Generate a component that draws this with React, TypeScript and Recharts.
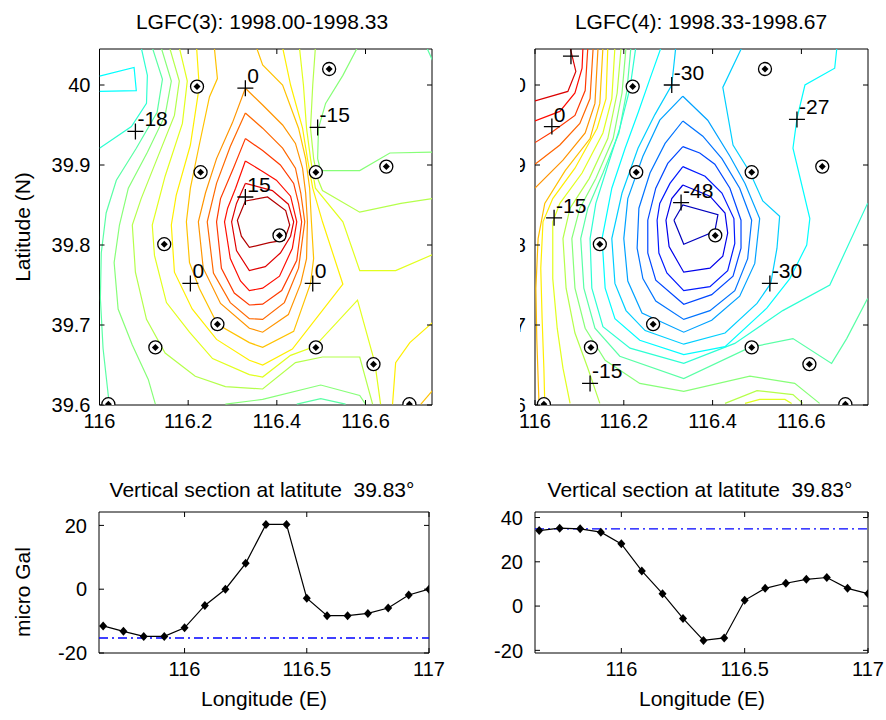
import React from 'react';
import { ScatterChart, Scatter, LineChart, Line, XAxis, YAxis, ReferenceArea, ReferenceLine } from 'recharts';

type Pt = [number, number];

const FONT = '"Liberation Sans", Arial, Helvetica, sans-serif';

// ---- map panels: station positions (lon, lat) ----
const stationLon = [116.22, 116.518, 116.228, 116.488, 116.647, 116.146, 116.406, 116.266, 116.126, 116.488, 116.618, 116.02, 116.699];
const stationLat = [39.998, 40.02, 39.891, 39.891, 39.898, 39.801, 39.812, 39.701, 39.672, 39.672, 39.651, 39.601, 39.601];

// labelled points
const mark3Lon = [116.081, 116.329, 116.492, 116.329, 116.205, 116.481];
const mark3Lat = [39.942, 39.996, 39.947, 39.86, 39.752, 39.752];
const mark3Label = ['-18', '0', '-15', '15', '0', '0'];

const mark4Lon = [116.081, 116.038, 116.308, 116.59, 116.043, 116.329, 116.529, 116.124];
const mark4Lat = [40.036, 39.948, 40.0, 39.957, 39.834, 39.853, 39.752, 39.627];
const mark4Label = ['', '0', '-30', '-27', '-15', '-48', '-30', '-15'];

// ---- contour lines LGFC(3), level of each line ----
const lgfc3Levels = [-21, -18, -15, -15, -15, -12, -12, -12, -9, -9, -6, -6, -3, -3, 0, 0, 3, 6, 9, 12, 15, 18];
const lgfc3Lines: Pt[][] = [
  [[116.0, 40.011], [116.078, 40.022], [116.083, 39.993], [116.0, 39.992]],
  [[116.094, 40.047], [116.108, 40.012], [116.106, 39.977], [116.072, 39.948], [116.0, 39.921]],
  [[116.119, 40.047], [116.142, 40.007], [116.13, 39.966], [116.083, 39.921], [116.038, 39.881], [116.015, 39.84], [116.004, 39.79], [116.002, 39.733], [116.008, 39.671], [116.022, 39.601]],
  [[116.445, 39.601], [116.499, 39.608], [116.555, 39.601]],
  [[116.738, 40.047], [116.751, 40.031]],
  [[116.139, 40.047], [116.162, 40.005], [116.148, 39.962], [116.108, 39.916], [116.065, 39.871], [116.045, 39.825], [116.033, 39.778], [116.042, 39.72], [116.074, 39.675], [116.11, 39.632], [116.126, 39.601]],
  [[116.582, 40.047], [116.549, 40.012], [116.51, 39.977], [116.494, 39.946], [116.492, 39.908], [116.499, 39.893], [116.587, 39.893], [116.655, 39.915], [116.751, 39.916]],
  [[116.284, 39.601], [116.368, 39.607], [116.499, 39.625], [116.587, 39.612], [116.6, 39.601]],
  [[116.158, 40.047], [116.18, 40.005], [116.169, 39.962], [116.13, 39.908], [116.094, 39.858], [116.074, 39.825], [116.081, 39.766], [116.106, 39.707], [116.148, 39.665], [116.216, 39.636], [116.284, 39.623], [116.368, 39.62], [116.442, 39.653], [116.503, 39.66], [116.587, 39.66], [116.616, 39.601]],
  [[116.487, 40.047], [116.481, 40.0], [116.476, 39.946], [116.483, 39.908], [116.492, 39.883], [116.503, 39.868], [116.587, 39.841], [116.68, 39.852], [116.751, 39.858]],
  [[116.18, 40.047], [116.198, 40.005], [116.187, 39.952], [116.148, 39.886], [116.119, 39.825], [116.124, 39.787], [116.151, 39.728], [116.203, 39.691], [116.255, 39.658], [116.338, 39.638], [116.368, 39.635], [116.431, 39.662], [116.485, 39.673], [116.582, 39.731], [116.621, 39.653], [116.634, 39.601]],
  [[116.451, 40.047], [116.46, 40.0], [116.467, 39.946], [116.476, 39.908], [116.487, 39.871], [116.549, 39.829], [116.587, 39.768], [116.668, 39.768], [116.751, 39.788]],
  [[116.219, 40.047], [116.225, 39.998], [116.205, 39.925], [116.173, 39.862], [116.162, 39.825], [116.169, 39.766], [116.209, 39.72], [116.264, 39.682], [116.338, 39.656], [116.368, 39.65], [116.435, 39.67], [116.549, 39.751], [116.503, 39.829], [116.481, 39.871], [116.469, 39.908], [116.458, 39.946], [116.431, 40.0], [116.413, 40.047]],
  [[116.661, 39.601], [116.668, 39.653], [116.7, 39.678], [116.751, 39.703]],
  [[116.259, 40.047], [116.266, 40.008], [116.248, 39.985], [116.225, 39.925], [116.205, 39.871], [116.196, 39.829], [116.203, 39.778], [116.225, 39.746], [116.266, 39.701], [116.338, 39.678], [116.368, 39.672], [116.438, 39.692], [116.476, 39.752], [116.483, 39.783], [116.478, 39.829], [116.474, 39.871], [116.465, 39.908], [116.449, 39.946], [116.413, 40.0], [116.368, 40.025], [116.354, 40.047]],
  [[116.725, 39.601], [116.751, 39.618]],
  [[116.329, 39.996], [116.3, 39.953], [116.264, 39.908], [116.239, 39.865], [116.223, 39.829], [116.234, 39.771], [116.273, 39.727], [116.338, 39.696], [116.368, 39.691], [116.426, 39.713], [116.454, 39.752], [116.467, 39.783], [116.469, 39.829], [116.465, 39.865], [116.458, 39.896], [116.442, 39.927], [116.413, 39.95], [116.368, 39.975], [116.329, 39.996]],
  [[116.329, 39.965], [116.295, 39.923], [116.264, 39.877], [116.243, 39.829], [116.257, 39.765], [116.295, 39.728], [116.338, 39.708], [116.368, 39.707], [116.417, 39.728], [116.449, 39.771], [116.463, 39.829], [116.454, 39.865], [116.442, 39.896], [116.413, 39.921], [116.368, 39.946], [116.329, 39.965]],
  [[116.329, 39.933], [116.302, 39.896], [116.273, 39.858], [116.264, 39.829], [116.275, 39.771], [116.304, 39.74], [116.338, 39.725], [116.368, 39.726], [116.411, 39.743], [116.445, 39.781], [116.456, 39.829], [116.449, 39.852], [116.438, 39.877], [116.408, 39.9], [116.368, 39.918], [116.329, 39.933]],
  [[116.329, 39.905], [116.307, 39.871], [116.289, 39.846], [116.282, 39.829], [116.295, 39.783], [116.318, 39.755], [116.338, 39.743], [116.368, 39.746], [116.406, 39.761], [116.435, 39.796], [116.445, 39.829], [116.431, 39.861], [116.399, 39.881], [116.368, 39.892], [116.329, 39.905]],
  [[116.329, 39.877], [116.309, 39.852], [116.298, 39.829], [116.309, 39.793], [116.338, 39.768], [116.374, 39.773], [116.408, 39.79], [116.431, 39.811], [116.438, 39.829], [116.426, 39.851], [116.39, 39.868], [116.329, 39.877]],
  [[116.329, 39.855], [116.311, 39.831], [116.32, 39.811], [116.338, 39.797], [116.383, 39.803], [116.417, 39.806], [116.429, 39.825], [116.42, 39.843], [116.379, 39.86], [116.329, 39.855]],
];

// ---- contour lines LGFC(4) ----
const lgfc4Levels = [9, 6, 3, 0, -3, -6, -9, -12, -12, -15, -15, -18, -21, -24, -27, -30, -33, -36, -39, -42, -45, -48];
const lgfc4Lines: Pt[][] = [
  [[116.0, 39.98], [116.074, 39.992], [116.092, 40.017], [116.079, 40.047]],
  [[116.0, 39.955], [116.056, 39.967], [116.09, 39.99], [116.106, 40.021], [116.108, 40.047]],
  [[116.0, 39.928], [116.04, 39.942], [116.09, 39.962], [116.113, 39.993], [116.119, 40.047]],
  [[116.0, 39.901], [116.056, 39.925], [116.101, 39.952], [116.124, 39.983], [116.131, 40.047]],
  [[116.0, 39.871], [116.063, 39.906], [116.113, 39.94], [116.135, 39.977], [116.142, 40.047]],
  [[116.153, 40.047], [116.146, 39.977], [116.124, 39.933], [116.068, 39.893], [116.022, 39.852], [116.007, 39.808], [116.002, 39.746], [116.004, 39.683], [116.009, 39.602]],
  [[116.164, 40.047], [116.16, 39.983], [116.14, 39.946], [116.09, 39.896], [116.04, 39.858], [116.018, 39.829], [116.013, 39.771], [116.016, 39.708], [116.02, 39.646], [116.022, 39.602]],
  [[116.18, 40.047], [116.173, 39.983], [116.153, 39.94], [116.106, 39.89], [116.056, 39.852], [116.04, 39.829], [116.04, 39.758], [116.05, 39.696], [116.063, 39.646], [116.079, 39.602]],
  [[116.473, 39.602], [116.506, 39.607], [116.563, 39.607], [116.578, 39.602]],
  [[116.194, 40.047], [116.185, 39.99], [116.164, 39.933], [116.122, 39.883], [116.079, 39.846], [116.063, 39.808], [116.07, 39.746], [116.09, 39.69], [116.119, 39.646], [116.146, 39.602]],
  [[116.428, 39.602], [116.5, 39.618], [116.581, 39.613], [116.603, 39.602]],
  [[116.205, 40.047], [116.196, 39.99], [116.176, 39.933], [116.137, 39.883], [116.101, 39.846], [116.083, 39.808], [116.09, 39.746], [116.113, 39.696], [116.158, 39.656], [116.236, 39.627], [116.335, 39.617], [116.484, 39.636], [116.585, 39.627], [116.641, 39.602]],
  [[116.216, 40.047], [116.207, 39.993], [116.189, 39.94], [116.153, 39.89], [116.119, 39.846], [116.103, 39.808], [116.11, 39.746], [116.135, 39.696], [116.191, 39.661], [116.335, 39.633], [116.484, 39.672], [116.581, 39.683], [116.668, 39.652], [116.702, 39.683], [116.749, 39.733]],
  [[116.227, 40.047], [116.214, 39.996], [116.191, 39.946], [116.162, 39.896], [116.137, 39.852], [116.124, 39.808], [116.128, 39.746], [116.153, 39.698], [116.214, 39.671], [116.335, 39.652], [116.45, 39.677], [116.558, 39.718], [116.664, 39.75], [116.749, 39.852]],
  [[116.284, 40.047], [116.259, 40.008], [116.232, 39.965], [116.203, 39.921], [116.173, 39.871], [116.151, 39.808], [116.158, 39.746], [116.18, 39.708], [116.236, 39.681], [116.335, 39.663], [116.428, 39.673], [116.522, 39.721], [116.574, 39.758], [116.612, 39.8], [116.619, 39.833], [116.581, 39.921], [116.59, 39.958], [116.608, 40.0], [116.675, 40.021], [116.68, 40.047]],
  [[116.317, 40.047], [116.308, 40.0], [116.27, 39.963], [116.232, 39.921], [116.196, 39.865], [116.173, 39.808], [116.18, 39.752], [116.205, 39.718], [116.248, 39.693], [116.335, 39.676], [116.428, 39.69], [116.5, 39.727], [116.531, 39.752], [116.545, 39.796], [116.551, 39.836], [116.513, 39.855], [116.484, 39.891], [116.446, 39.925], [116.423, 39.997], [116.466, 40.047]],
  [[116.333, 39.986], [116.281, 39.956], [116.243, 39.911], [116.209, 39.858], [116.2, 39.808], [116.209, 39.755], [116.241, 39.715], [116.335, 39.691], [116.398, 39.706], [116.461, 39.736], [116.495, 39.777], [116.506, 39.833], [116.473, 39.877], [116.439, 39.911], [116.389, 39.956], [116.333, 39.986]],
  [[116.333, 39.955], [116.293, 39.927], [116.259, 39.89], [116.234, 39.846], [116.23, 39.796], [116.243, 39.758], [116.272, 39.73], [116.335, 39.707], [116.394, 39.718], [116.45, 39.743], [116.479, 39.783], [116.488, 39.831], [116.461, 39.871], [116.421, 39.908], [116.378, 39.936], [116.333, 39.955]],
  [[116.333, 39.923], [116.299, 39.902], [116.272, 39.871], [116.254, 39.831], [116.254, 39.79], [116.272, 39.756], [116.335, 39.726], [116.398, 39.738], [116.446, 39.761], [116.464, 39.796], [116.464, 39.831], [116.439, 39.871], [116.405, 39.901], [116.371, 39.915], [116.333, 39.923]],
  [[116.333, 39.898], [116.304, 39.877], [116.281, 39.852], [116.275, 39.831], [116.279, 39.79], [116.297, 39.765], [116.335, 39.743], [116.394, 39.748], [116.434, 39.768], [116.45, 39.802], [116.448, 39.833], [116.421, 39.865], [116.383, 39.886], [116.333, 39.898]],
  [[116.333, 39.875], [116.308, 39.858], [116.295, 39.831], [116.302, 39.798], [116.335, 39.766], [116.394, 39.771], [116.423, 39.786], [116.434, 39.815], [116.428, 39.84], [116.394, 39.861], [116.333, 39.875]],
  [[116.313, 39.831], [116.333, 39.85], [116.412, 39.838], [116.405, 39.817], [116.335, 39.801], [116.313, 39.831]],
];

// ---- vertical sections at latitude 39.83 ----
const sectionLon = [115.667, 115.75, 115.833, 115.917, 116, 116.083, 116.167, 116.25, 116.333, 116.417, 116.5, 116.583, 116.667, 116.75, 116.833, 116.917, 117];
const section3 = [-11.5, -13.2, -14.8, -14.8, -12.1, -5.1, 0, 8.1, 20.3, 20.3, -2.8, -8.3, -8.3, -7.6, -5.9, -1.8, 0];
const section4 = [34.1, 35.2, 34.9, 33.4, 28.1, 15.9, 5.6, -5.6, -15.5, -14.4, 2.6, 8.0, 10.3, 12.1, 12.9, 8.0, 5.6];
const ref3 = -15.3;
const ref4 = 34.9;

// ticks
const mapLonTicks = [116, 116.2, 116.4, 116.6];
const mapLatTicks = [39.6, 39.7, 39.8, 39.9, 40];
const secLonTicks = [116, 116.5, 117];
const sec3Ticks = [-20, 0, 20];
const sec4Ticks = [-20, 0, 20, 40];

const mapLonDomain: Pt = [116, 116.75];
const mapLatDomain: Pt = [39.6, 40.045];
const secLonDomain: Pt = [115.65, 117];
const sec3Domain: Pt = [-20, 24.2];
const sec4Domain: Pt = [-21.2, 42.5];

// matlab-ish jet colormap
function jet(t: number) {
  const c = (v: number) => Math.round(255 * Math.max(0, Math.min(1, v)));
  return `rgb(${c(1.5 - Math.abs(4 * t - 3))},${c(1.5 - Math.abs(4 * t - 2))},${c(1.5 - Math.abs(4 * t - 1))})`;
}
const color3 = (v: number) => jet(0.375 + ((v + 21) / 39) * 0.575);
const color4 = (v: number) => jet(0.06 + ((v + 48) / 57) * 0.85);

const TICK = 5;

// tick label plus inward ticks on both sides (box style)
const xTick = (top: number, gap: number) => (p: any) => {
  const base = p.y - gap;
  return (
    <g>
      <line x1={p.x} x2={p.x} y1={base} y2={base - TICK} stroke="#000" />
      <line x1={p.x} x2={p.x} y1={top} y2={top + TICK} stroke="#000" />
      <text x={p.x} y={p.y} dy="0.75em" textAnchor="middle" fontSize={20} fontFamily={FONT} fill="#000">
        {p.payload.value}
      </text>
    </g>
  );
};
const yTick = (right: number, gap: number) => (p: any) => {
  const left = p.x + gap;
  return (
    <g>
      <line x1={left} x2={left + TICK} y1={p.y} y2={p.y} stroke="#000" />
      <line x1={right} x2={right - TICK} y1={p.y} y2={p.y} stroke="#000" />
      <text x={p.x} y={p.y} dy="0.36em" textAnchor="end" fontSize={20} fontFamily={FONT} fill="#000">
        {p.payload.value}
      </text>
    </g>
  );
};

const noShape = () => <g />;

const StationShape = (p: any) => (
  <g>
    <circle cx={p.cx} cy={p.cy} r={6.5} fill="#fff" stroke="#000" strokeWidth={1.3} />
    <path d={`M${p.cx},${p.cy - 3.5}L${p.cx + 3.5},${p.cy}L${p.cx},${p.cy + 3.5}L${p.cx - 3.5},${p.cy}Z`} fill="#000" />
  </g>
);

const CrossShape = (p: any) => (
  <g>
    <path d={`M${p.cx - 8},${p.cy}H${p.cx + 8}M${p.cx},${p.cy - 8}V${p.cy + 8}`} stroke="#000" strokeWidth={1.3} />
    <text x={p.cx + 2} y={p.cy - 5} fontSize={21} fontFamily={FONT} fill="#000">
      {p.payload.label}
    </text>
  </g>
);

const Diamond = (p: any) => (
  <path
    key={p.index}
    d={`M${p.cx},${p.cy - 4.5}L${p.cx + 4},${p.cy}L${p.cx},${p.cy + 4.5}L${p.cx - 4},${p.cy}Z`}
    fill="#000"
  />
);

const stations = stationLon.map((x, i) => ({ x, y: stationLat[i] }));

function MapPanel(props: {
  width: number;
  height: number;
  margin: { top: number; left: number; right: number; bottom: number };
  yWidth: number;
  levels: number[];
  lines: Pt[][];
  color: (v: number) => string;
  markLon: number[];
  markLat: number[];
  markLabel: string[];
}) {
  const { width, height, margin, yWidth } = props;
  const right = width - margin.right;
  const marks = props.markLon.map((x, i) => ({ x, y: props.markLat[i], label: props.markLabel[i] }));
  return (
    <ScatterChart width={width} height={height} margin={margin}>
      <XAxis
        type="number"
        dataKey="x"
        domain={mapLonDomain}
        ticks={mapLonTicks}
        interval={0}
        allowDataOverflow
        axisLine={false}
        tickLine={false}
        tickSize={0}
        tickMargin={8}
        height={30}
        tick={xTick(margin.top, 8)}
      />
      <YAxis
        type="number"
        dataKey="y"
        domain={mapLatDomain}
        ticks={mapLatTicks}
        interval={0}
        allowDataOverflow
        axisLine={false}
        tickLine={false}
        tickSize={0}
        tickMargin={9}
        width={yWidth}
        tick={yTick(right, 9)}
      />
      {props.lines.map((pts, i) => (
        <Scatter
          key={i}
          data={pts.map(([x, y]) => ({ x, y }))}
          line={{ stroke: props.color(props.levels[i]), strokeWidth: 1.2 }}
          lineType="joint"
          shape={noShape}
          isAnimationActive={false}
        />
      ))}
      <Scatter data={stations} shape={StationShape} isAnimationActive={false} />
      <Scatter data={marks} shape={CrossShape} isAnimationActive={false} />
      <ReferenceArea
        x1={mapLonDomain[0]}
        x2={mapLonDomain[1]}
        y1={mapLatDomain[0]}
        y2={mapLatDomain[1]}
        fill="none"
        stroke="#000"
        strokeWidth={1}
        ifOverflow="visible"
      />
    </ScatterChart>
  );
}

function SectionPanel(props: {
  width: number;
  margin: { top: number; left: number; right: number; bottom: number };
  values: number[];
  domain: Pt;
  ticks: number[];
  refValue: number;
}) {
  const { width, margin } = props;
  const height = 240;
  const right = width - margin.right;
  const data = sectionLon.map((lon, i) => ({ lon, v: props.values[i] }));
  return (
    <LineChart width={width} height={height} margin={margin} data={data}>
      <XAxis
        type="number"
        dataKey="lon"
        domain={secLonDomain}
        ticks={secLonTicks}
        interval={0}
        allowDataOverflow
        axisLine={false}
        tickLine={false}
        tickSize={0}
        tickMargin={8}
        height={30}
        tick={xTick(margin.top, 8)}
      />
      <YAxis
        type="number"
        domain={props.domain}
        ticks={props.ticks}
        interval={0}
        allowDataOverflow
        axisLine={false}
        tickLine={false}
        tickSize={0}
        tickMargin={12}
        width={60}
        tick={yTick(right, 12)}
      />
      <ReferenceLine y={props.refValue} stroke="#0000ff" strokeWidth={1.3} strokeDasharray="9 4 2 4" />
      <Line dataKey="v" stroke="#000" strokeWidth={1.2} dot={Diamond} isAnimationActive={false} />
      <ReferenceArea
        x1={secLonDomain[0]}
        x2={secLonDomain[1]}
        y1={props.domain[0]}
        y2={props.domain[1]}
        fill="none"
        stroke="#000"
        strokeWidth={1}
        ifOverflow="visible"
      />
    </LineChart>
  );
}

export default function App() {
  const txt = { fontFamily: FONT, fill: '#000' } as const;
  return (
    <div style={{ position: 'absolute', left: 0, top: 0, width: 886, height: 720, background: '#fff', overflow: 'hidden' }}>
      <div style={{ position: 'absolute', left: 0, top: 0 }}>
        <MapPanel
          width={440}
          height={440}
          margin={{ top: 49, left: 39.5, right: 8, bottom: 5 }}
          yWidth={60}
          levels={lgfc3Levels}
          lines={lgfc3Lines}
          color={color3}
          markLon={mark3Lon}
          markLat={mark3Lat}
          markLabel={mark3Label}
        />
      </div>
      <div style={{ position: 'absolute', left: 520, top: 0 }}>
        <MapPanel
          width={366}
          height={440}
          margin={{ top: 49, left: 0, right: 18, bottom: 5 }}
          yWidth={15}
          levels={lgfc4Levels}
          lines={lgfc4Lines}
          color={color4}
          markLon={mark4Lon}
          markLat={mark4Lat}
          markLabel={mark4Label}
        />
      </div>
      <div style={{ position: 'absolute', left: 0, top: 470 }}>
        <SectionPanel
          width={462}
          margin={{ top: 42, left: 39, right: 33, bottom: 27 }}
          values={section3}
          domain={sec3Domain}
          ticks={sec3Ticks}
          refValue={ref3}
        />
      </div>
      <div style={{ position: 'absolute', left: 440, top: 470 }}>
        <SectionPanel
          width={446}
          margin={{ top: 42, left: 35, right: 18, bottom: 27 }}
          values={section4}
          domain={sec4Domain}
          ticks={sec4Ticks}
          refValue={ref4}
        />
      </div>
      <svg width={886} height={720} style={{ position: 'absolute', left: 0, top: 0, pointerEvents: 'none' }}>
        <text x={262} y={29} textAnchor="middle" fontSize={21} {...txt}>LGFC(3): 1998.00-1998.33</text>
        <text x={701} y={29} textAnchor="middle" fontSize={21} {...txt}>LGFC(4): 1998.33-1998.67</text>
        <text x={262} y={497} textAnchor="middle" fontSize={21} {...txt} style={{ whiteSpace: 'pre' }}>
          {'Vertical section at latitute  39.83°'}
        </text>
        <text x={700} y={497} textAnchor="middle" fontSize={21} {...txt} style={{ whiteSpace: 'pre' }}>
          {'Vertical section at latitute  39.83°'}
        </text>
        <text x={30} y={227} textAnchor="middle" fontSize={21} transform="rotate(-90 30 227)" {...txt}>Latitude (N)</text>
        <text x={30} y={592} textAnchor="middle" fontSize={21} transform="rotate(-90 30 592)" {...txt}>micro Gal</text>
        <text x={264} y={706} textAnchor="middle" fontSize={21} {...txt}>Longitude (E)</text>
        <text x={702} y={706} textAnchor="middle" fontSize={21} {...txt}>Longitude (E)</text>
      </svg>
    </div>
  );
}
